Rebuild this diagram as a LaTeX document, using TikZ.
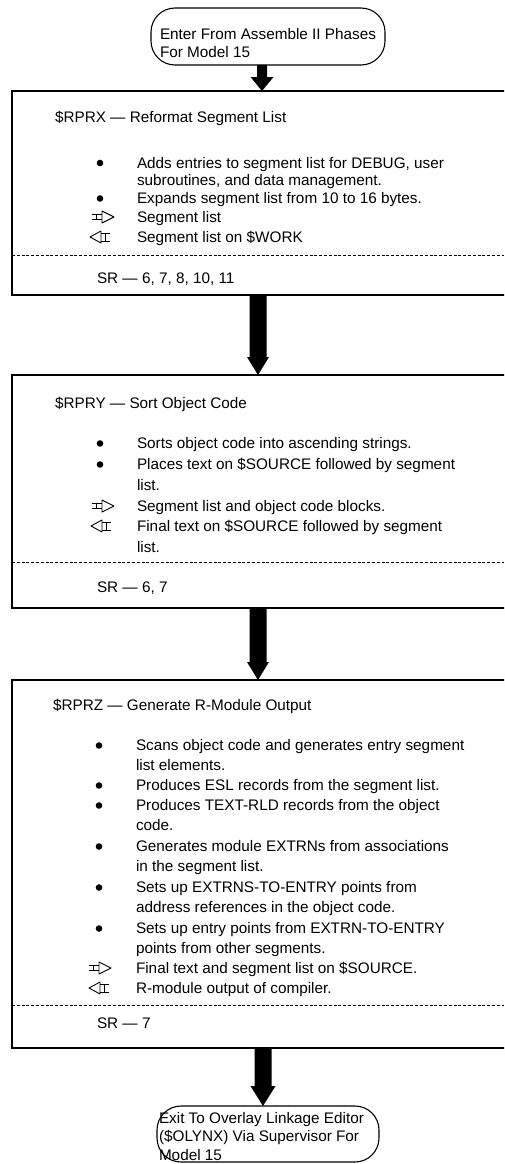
\documentclass[tikz,border=0pt]{standalone}
\usepackage{fontspec}
\setmainfont{Liberation Sans}
\usetikzlibrary{calc}
\newcommand\blockarrow[5]{\fill let \p1=(#1), \p2=(#2) in
  (\x1-#3,\y1) -- (\x1+#3,\y1) -- (\x1+#3,\y2+#5) -- (\x1+#4,\y2+#5) -- (\x1,\y2)
  -- (\x1-#4,\y2+#5) -- (\x1-#3,\y2+#5) -- cycle;}
\tikzset{
  txt/.style={anchor=base west, inner sep=0pt, outer sep=0pt, font=\fontsize{15.3}{18}\selectfont},
  box/.style={inner sep=0pt, outer sep=0pt, anchor=north west, minimum width=500pt},
  boxline/.style={line width=1.1pt},
  term/.style={draw, line width=1.1pt, rounded corners=24pt, inner sep=0pt, outer sep=0pt},
  sep/.style={line width=0.8pt, dash pattern=on 3pt off 1.8pt},
  inp/.pic={\draw[line width=0.9pt] (0,-2.5) -- (10,-2.5) (0,2.5) -- (10,2.5) (4,-2.5) -- (4,2.5);
            \draw[line width=0.9pt, line join=round] (10,-6) -- (22,0) -- (10,6) -- cycle;},
  outp/.pic={\draw[line width=0.9pt, line join=round] (0,0) -- (11,-6) -- (11,6) -- cycle;
             \draw[line width=0.9pt] (11,-4) -- (20,-4) (11,4) -- (20,4) (15,-4) -- (15,4);}
}
\begin{document}
\begin{tikzpicture}[x=1pt, y=-1pt]
\useasboundingbox (0,0) rectangle (504,1164);
\clip (0,0) rectangle (504,1164);

% terminals
\node[term, minimum width=234pt, minimum height=57pt] (t1) at (268,36.5) {};
\node[txt] (t1a) at (160,40) {Enter From Assemble II Phases};
\node[txt] (t1b) at (160,58) {For Model 15};

\node[term, minimum width=222pt, minimum height=56pt] (t2) at (268,1134) {};
\node[txt] (t2a) at (159,1123) {Exit To Overlay Linkage Editor};
\node[txt] (t2b) at (159,1141) {(\$OLYNX) Via Supervisor For};
\node[txt] (t2c) at (159,1160) {Model 15};

% box 1
\node[box, minimum height=204pt] (b1) at (12,91) {};
\draw[boxline] (b1.north east) -- (b1.north west) -- (b1.south west) -- (b1.south east);
\node[txt] (b1t) at (55,122) {\$RPRX — Reformat Segment List};
\fill (100,163) circle (3.3pt);
\node[txt] (b1l1) at (137,168) {Adds entries to segment list for DEBUG, user};
\node[txt] (b1l2) at (137,185) {subroutines, and data management.};
\fill (100,198.5) circle (3.3pt);
\node[txt] (b1l3) at (137,203) {Expands segment list from 10 to 16 bytes.};
\pic at (92,217) {inp};
\node[txt] (b1l4) at (137,222) {Segment list};
\pic at (90,237) {outp};
\node[txt] (b1l5) at (137,242) {Segment list on \$WORK};
\draw[sep] (12,255) -- (504,255);
\node[txt] (b1sr) at (97,283) {SR — 6, 7, 8, 10, 11};

% box 2
\node[box, minimum height=233pt] (b2) at (12,375) {};
\draw[boxline] (b2.north east) -- (b2.north west) -- (b2.south west) -- (b2.south east);
\node[txt] (b2t) at (55,408) {\$RPRY — Sort Object Code};
\fill (100,443.5) circle (3.3pt);
\node[txt] (b2l1) at (137,448) {Sorts object code into ascending strings.};
\fill (100,464.5) circle (3.3pt);
\node[txt] (b2l2) at (137,469) {Places text on \$SOURCE followed by segment};
\node[txt] (b2l3) at (137,490) {list.};
\pic at (92,506) {inp};
\node[txt] (b2l4) at (137,511) {Segment list and object code blocks.};
\pic at (91,526) {outp};
\node[txt] (b2l5) at (137,531) {Final text on \$SOURCE followed by segment};
\node[txt] (b2l6) at (137,552) {list.};
\draw[sep] (12,562) -- (504,562);
\node[txt] (b2sr) at (97,592) {SR — 6, 7};

% box 3
\node[box, minimum height=368pt] (b3) at (12,680) {};
\draw[boxline] (b3.north east) -- (b3.north west) -- (b3.south west) -- (b3.south east);
\node[txt] (b3t) at (53,710) {\$RPRZ — Generate R-Module Output};
\fill (99,745.5) circle (3.3pt);
\node[txt] (b3l1) at (136,750) {Scans object code and generates entry segment};
\node[txt] (b3l2) at (136,770) {list elements.};
\fill (99,785.5) circle (3.3pt);
\node[txt] (b3l3) at (136,790) {Produces ESL records from the segment list.};
\fill (99,805.5) circle (3.3pt);
\node[txt] (b3l4) at (136,810) {Produces TEXT-RLD records from the object};
\node[txt] (b3l5) at (136,830) {code.};
\fill (99,846.5) circle (3.3pt);
\node[txt] (b3l6) at (136,851) {Generates module EXTRNs from associations};
\node[txt] (b3l7) at (136,871) {in the segment list.};
\fill (99,887.5) circle (3.3pt);
\node[txt] (b3l8) at (136,892) {Sets up EXTRNS-TO-ENTRY points from};
\node[txt] (b3l9) at (136,912) {address references in the object code.};
\fill (99,928.5) circle (3.3pt);
\node[txt] (b3l10) at (136,933) {Sets up entry points from EXTRN-TO-ENTRY};
\node[txt] (b3l11) at (136,953) {points from other segments.};
\pic at (89,968) {inp};
\node[txt] (b3l12) at (136,973) {Final text and segment list on \$SOURCE.};
\pic at (89,988) {outp};
\node[txt] (b3l13) at (136,993) {R-module output of compiler.};
\draw[sep] (12,1005) -- (504,1005);
\node[txt] (b3sr) at (97,1028) {SR — 7};

% block arrows
\blockarrow{[xshift=-6pt]t1.south}{[xshift=-4pt]b1.north}{5pt}{11.5pt}{14pt}
\blockarrow{[xshift=-4pt]b1.south}{[xshift=-4pt]b2.north}{8.5pt}{11pt}{18pt}
\blockarrow{[xshift=-4pt]b2.south}{[xshift=-4pt]b3.north}{8.5pt}{11pt}{18pt}
\blockarrow{[xshift=1pt]b3.south}{[xshift=-5pt]t2.north}{8.5pt}{12.5pt}{20pt}
\end{tikzpicture}
\end{document}
